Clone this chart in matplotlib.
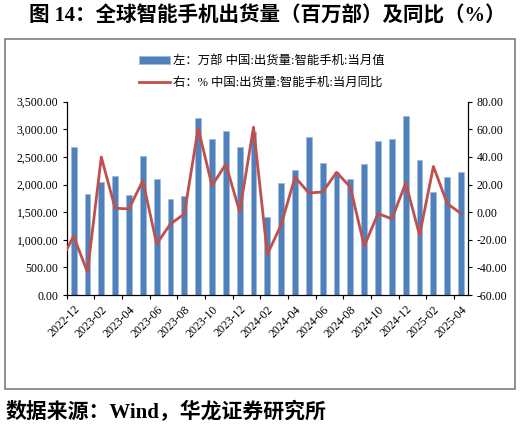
import matplotlib
matplotlib.use("Agg")
import matplotlib.pyplot as plt
from matplotlib.patches import Rectangle
from matplotlib.ticker import FuncFormatter
import numpy as np

months = ["2022-12", "2023-01", "2023-02", "2023-03", "2023-04", "2023-05", "2023-06",
          "2023-07", "2023-08", "2023-09", "2023-10", "2023-11", "2023-12", "2024-01",
          "2024-02", "2024-03", "2024-04", "2024-05", "2024-06", "2024-07", "2024-08",
          "2024-09", "2024-10", "2024-11", "2024-12", "2025-01", "2025-02", "2025-03",
          "2025-04"]
# 万部
shipments = [2685, 1828, 2046, 2160, 1810, 2522, 2094, 1732, 1798, 3198, 2824, 2963,
             2685, 2957, 1406, 2022, 2269, 2854, 2384, 2221, 2106, 2372, 2794, 2818,
             3247, 2450, 1859, 2142, 2227]
# %, first value is 2022-11 (only its tail shows at the left edge)
yoy = [-36.8, -17.4, -43.4, 39.9, 2.8, 2.4, 22.8, -22.9, -8.5, -1.3, 60.8, 19.2, 34.8,
       0.2, 61.5, -30.6, -9.0, 25.4, 13.9, 14.6, 28.8, 18.2, -24.6, -1.0, -4.9, 21.1,
       -16.7, 33.1, 6.2, -1.0]

bar_label = "左：万部 中国:出货量:智能手机:当月值"
line_label = "右：% 中国:出货量:智能手机:当月同比"
title = "图 14：全球智能手机出货量（百万部）及同比（%）"
source = "数据来源：Wind，华龙证券研究所"

fam = ["Liberation Serif", "Noto Sans CJK SC", "DejaVu Sans"]
plt.rcParams["font.family"] = fam

W, H = 521, 430
fig = plt.figure(figsize=(W / 100, H / 100), dpi=100)
ax = fig.add_axes([66.7 / W, 1 - 295 / H, (468 - 66.7) / W, (295 - 101.7) / H])
ax2 = ax.twinx()

x = np.arange(len(months))
bars = ax.bar(x, shipments, width=0.42, color="#4F81BD", edgecolor="#9DB9DE",
              linewidth=0.5, label=bar_label, zorder=2)
line, = ax2.plot(np.arange(-1, len(months)), yoy, color="#C0504D", lw=2,
                 label=line_label, zorder=3)

ax.set_xlim(-0.5, len(months) - 0.5)
ax.set_ylim(0, 3500)
ax.set_yticks(np.arange(0, 3501, 500))
ax.yaxis.set_major_formatter(FuncFormatter(lambda v, p: f"{v:,.2f}"))
ax2.set_ylim(-60, 80)
ax2.set_yticks(np.arange(-60, 81, 20))
ax2.yaxis.set_major_formatter(FuncFormatter(lambda v, p: f"{v:.2f}"))

# ticks at category boundaries, labels at category centres
ax.set_xticks(np.arange(-0.5, len(months), 2))
ax.set_xticklabels([])
ax.set_xticks(x[::2], minor=True)
ax.set_xticklabels(months[::2], minor=True, rotation=45, ha="right",
                   rotation_mode="anchor", fontsize=8.5)
ax.tick_params(axis="x", which="major", length=3, direction="out", width=0.8)
ax.tick_params(axis="x", which="minor", length=0, pad=6)
ax.tick_params(axis="y", length=3, width=0.8, labelsize=8.5, pad=3)
ax2.tick_params(axis="y", length=3, width=0.8, labelsize=8.5, pad=3)

for a in (ax, ax2):
    a.spines["top"].set_visible(False)
    for s in ("left", "right", "bottom"):
        a.spines[s].set_linewidth(0.8)
ax.set_zorder(ax2.get_zorder() - 1)
ax2.patch.set_visible(False)
ax2.set_zorder(1)
ax.patch.set_visible(False)

fig.legend(handles=[bars, line], labels=[bar_label, line_label],
           loc="upper center", bbox_to_anchor=(262 / W, 1 - 49 / H),
           frameon=False, fontsize=8.9, handlelength=2.5, handletextpad=0.3,
           labelspacing=0.8, borderpad=0)

fig.patches.append(Rectangle((5 / W, 1 - 389 / H), 510 / W, 350 / H,
                             transform=fig.transFigure, fill=False,
                             edgecolor="#7F7F7F", lw=1.2))

fig.text(267 / W, 1 - 16 / H, title, ha="center", va="center", fontsize=14.8,
         fontweight="bold")
fig.text(6 / W, 1 - 412 / H, source, ha="left", va="center", fontsize=15,
         fontweight="bold")

fig.savefig("out.png", dpi=100)
